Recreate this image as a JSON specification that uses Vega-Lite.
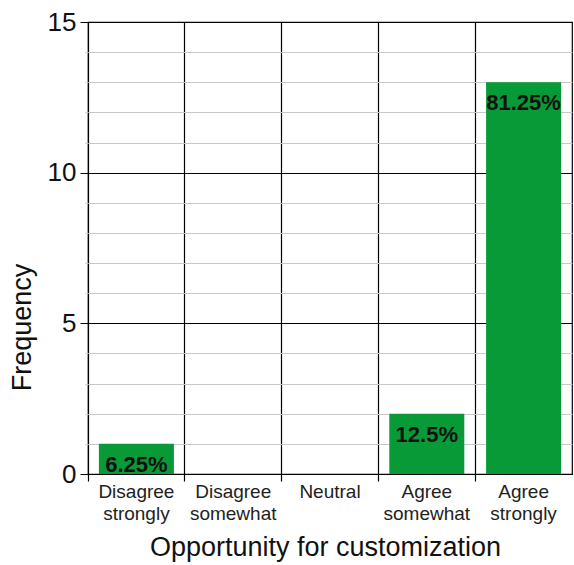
{
  "$schema": "https://vega.github.io/schema/vega-lite/v6.json",
  "width": 484,
  "height": 452,
  "autosize": {"type": "none"},
  "padding": {"left": 88, "top": 22, "right": 2, "bottom": 91},
  "background": "white",
  "config": {
    "font": "Liberation Sans",
    "view": {"stroke": "black", "strokeWidth": 1.2}
  },
  "data": {
    "values": [
      {"response": "Disagree strongly", "frequency": 1, "label": "6.25%"},
      {"response": "Disagree somewhat", "frequency": 0, "label": ""},
      {"response": "Neutral", "frequency": 0, "label": ""},
      {"response": "Agree somewhat", "frequency": 2, "label": "12.5%"},
      {"response": "Agree strongly", "frequency": 13, "label": "81.25%"}
    ]
  },
  "encoding": {
    "x": {
      "field": "response",
      "type": "nominal",
      "sort": null,
      "scale": {"paddingInner": 0, "paddingOuter": 0},
      "axis": {
        "title": "Opportunity for customization",
        "titleFontSize": 27,
        "titleFontWeight": "normal",
        "titleColor": "#111",
        "titlePadding": 11,
        "titleX": 237,
        "labelAngle": 0,
        "labelFontSize": 19,
        "labelColor": "#222",
        "labelExpr": "split(datum.label, ' ')",
        "labelLineHeight": 22,
        "labelPadding": 1,
        "labelBaseline": "top",
        "bandPosition": 0,
        "tickSize": 7,
        "tickColor": "black",
        "tickWidth": 1.2,
        "grid": true,
        "gridColor": "black",
        "gridWidth": 1.2,
        "gridOpacity": 1,
        "domainColor": "black",
        "domainWidth": 1.2
      }
    },
    "y": {
      "field": "frequency",
      "type": "quantitative",
      "scale": {"domain": [0, 15], "nice": false},
      "axis": {
        "title": "Frequency",
        "titleFontSize": 27,
        "titleFontWeight": "normal",
        "titleColor": "#111",
        "titleAngle": -90,
        "titleAlign": "center",
        "titleBaseline": "middle",
        "titleX": -66,
        "titleY": 305,
        "values": [0,1,2,3,4,5,6,7,8,9,10,11,12,13,14,15],
        "labelExpr": "datum.value % 5 === 0 ? datum.label : ''",
        "labelFontSize": 26,
        "labelColor": "#111",
        "labelPadding": 4,
        "tickSize": {"condition": {"test": "datum.value % 5 === 0", "value": 8}, "value": 3},
        "tickColor": {"condition": {"test": "datum.value % 5 === 0", "value": "black"}, "value": "#c8c8c8"},
        "gridColor": {"condition": {"test": "datum.value % 5 === 0", "value": "black"}, "value": "#c8c8c8"},
        "gridWidth": {"condition": {"test": "datum.value % 5 === 0", "value": 1.2}, "value": 1},
        "gridOpacity": 1,
        "domain": false
      }
    }
  },
  "layer": [
    {
      "mark": {"type": "bar", "color": "#079a36", "width": {"band": 0.775}}
    },
    {
      "mark": {"type": "text", "baseline": "middle", "dy": 21, "fontSize": 22, "fontWeight": "bold", "color": "#111"},
      "encoding": {"text": {"field": "label"}}
    }
  ]
}
